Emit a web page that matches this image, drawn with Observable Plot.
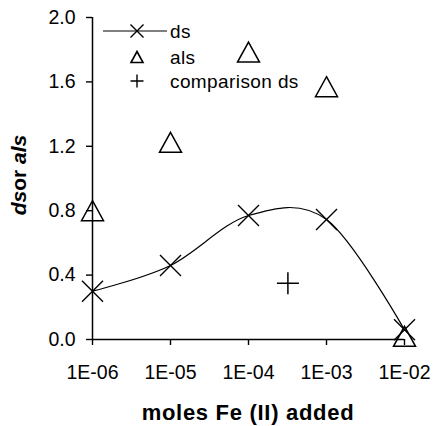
<!DOCTYPE html>
<html><head><meta charset="utf-8">
<script src="https://cdn.jsdelivr.net/npm/d3@7"></script>
<script src="https://cdn.jsdelivr.net/npm/@observablehq/plot@0.6"></script>
<style>body{margin:0;background:#fff}</style>
</head><body><div id="chart"></div>
<script>
const moles = [1e-6, 1e-5, 1e-4, 1e-3, 1e-2];
const dsValues = [0.30, 0.46, 0.77, 0.745, 0.06];
const alsValues = [0.80, 1.225, 1.785, 1.57, 0.02];
const comparisonMoles = [3.2e-4];
const comparisonDs = [0.35];
const xTicks = [1e-6, 1e-5, 1e-4, 1e-3, 1e-2];
const xTickLabels = ["1E-06", "1E-05", "1E-04", "1E-03", "1E-02"];
const yTicks = [0, 0.4, 0.8, 1.2, 1.6, 2.0];
const yTickLabels = ["0.0", "0.4", "0.8", "1.2", "1.6", "2.0"];
const seriesNames = ["ds", "als", "comparison ds"];
const xLabel = "moles Fe (II) added";

const dsData = moles.map((m, i) => ({x: m, y: dsValues[i]}));
const alsData = moles.map((m, i) => ({x: m, y: alsValues[i]}));
const compData = comparisonMoles.map((m, i) => ({x: m, y: comparisonDs[i]}));

const timesSym = h => ({draw(c){c.moveTo(-h,-h);c.lineTo(h,h);c.moveTo(h,-h);c.lineTo(-h,h);}});
const triSym = (w, ht) => ({draw(c){c.moveTo(0,-ht/2);c.lineTo(w/2,ht/2);c.lineTo(-w/2,ht/2);c.closePath();}});
const plusSym = h => ({draw(c){c.moveTo(-h,0);c.lineTo(h,0);c.moveTo(0,-h);c.lineTo(0,h);}});

const xFmt = d => xTickLabels[xTicks.findIndex(t => Math.abs(Math.log10(t) - Math.log10(d)) < 1e-6)];
const yFmt = d => yTickLabels[yTicks.findIndex(t => Math.abs(t - d) < 1e-9)];

const plot = Plot.plot({
  width: 434, height: 426,
  marginLeft: 92, marginRight: 30, marginTop: 17, marginBottom: 87,
  style: {fontFamily: "'Liberation Sans', Arial, sans-serif", fontSize: "19.5px", color: "black", background: "white"},
  x: {type: "log", domain: [1e-6, 1e-2], axis: null},
  y: {domain: [0, 2], axis: null},
  marks: [
    Plot.axisX({ticks: xTicks, tickFormat: xFmt, tickSize: 6, tickPadding: 20, strokeWidth: 1.4, label: null}),
    Plot.axisY({ticks: yTicks, tickFormat: yFmt, tickSize: 6, tickPadding: 11, strokeWidth: 1.4, label: null}),
    Plot.ruleX([1e-6], {stroke: "black", strokeWidth: 1.5}),
    Plot.ruleY([0], {stroke: "black", strokeWidth: 1.5}),
    Plot.line(dsData, {x: "x", y: "y", curve: "cardinal", stroke: "black", strokeWidth: 1.2}),
    Plot.dot(dsData, {x: "x", y: "y", symbol: timesSym(10.5), stroke: "black", fill: "none", strokeWidth: 1.4, r: 5}),
    Plot.dot(alsData, {x: "x", y: "y", symbol: triSym(22, 20), stroke: "black", fill: "none", strokeWidth: 1.5, r: 5}),
    Plot.dot(compData, {x: "x", y: "y", symbol: plusSym(11), stroke: "black", fill: "none", strokeWidth: 1.5, r: 5})
  ]
});
document.getElementById("chart").appendChild(plot);

const svg = d3.select(plot);
const font = "'Liberation Sans', Arial, sans-serif";
// x axis label
svg.append("text").attr("x", 248).attr("y", 420).attr("text-anchor", "middle")
  .attr("font-family", font).attr("font-size", 22).attr("font-weight", "bold")
  .attr("letter-spacing", "0.7px").attr("fill", "black").text(xLabel);
// y axis label
const yl = svg.append("text").attr("transform", "translate(26,175) rotate(-90)").attr("text-anchor", "middle")
  .attr("font-family", font).attr("font-size", 21).attr("font-weight", "bold").attr("fill", "black");
yl.append("tspan").attr("font-style", "italic").text("ds");
yl.append("tspan").text("or ");
yl.append("tspan").attr("font-style", "italic").text("als");

// legend
const lg = svg.append("g").attr("fill", "none").attr("stroke", "black");
const pathOf = (sym) => { const p = d3.path(); sym.draw(p); return p.toString(); };
const lx = 137, ly = [31, 57, 81];
lg.append("line").attr("x1", 103).attr("x2", 167).attr("y1", ly[0]).attr("y2", ly[0]).attr("stroke-width", 1.2);
lg.append("path").attr("d", pathOf(timesSym(6.5))).attr("transform", `translate(${lx},${ly[0]})`).attr("stroke-width", 1.4);
lg.append("path").attr("d", pathOf(triSym(12, 11))).attr("transform", `translate(${lx},${ly[1]})`).attr("stroke-width", 1.6);
lg.append("path").attr("d", pathOf(plusSym(6.5))).attr("transform", `translate(${lx},${ly[2]})`).attr("stroke-width", 1.4);
seriesNames.forEach((n, i) => {
  svg.append("text").attr("x", 170).attr("y", ly[i]).attr("dy", "0.35em").attr("text-anchor", "start")
    .attr("font-family", font).attr("font-size", 19).attr("letter-spacing", "0.4px").attr("fill", "black").text(n);
});
</script>
</body></html>
